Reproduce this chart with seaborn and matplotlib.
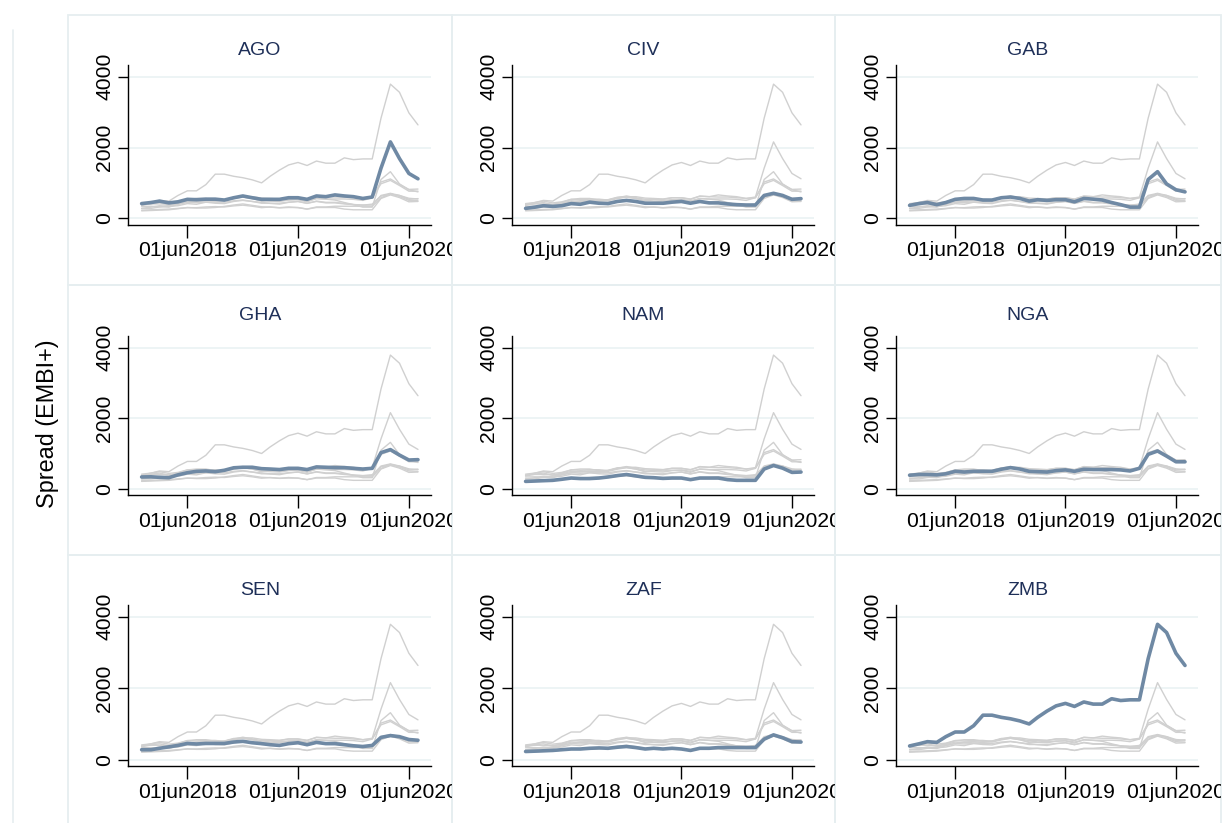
import numpy as np
import pandas as pd
import matplotlib
matplotlib.use("Agg")
import matplotlib.pyplot as plt
from matplotlib.patches import Rectangle
from matplotlib.lines import Line2D
from matplotlib.transforms import Bbox, TransformedBbox
import seaborn as sns

# Monthly EMBI+ spreads (basis points), Jan 2018 - Jul 2020
months = pd.date_range("2018-01-01", periods=31, freq="MS")

countries = ["AGO", "CIV", "GAB", "GHA", "NAM", "NGA", "SEN", "ZAF", "ZMB"]

ago = [420, 450, 490, 440, 470, 540, 530, 545, 545, 520, 585, 635, 585, 540, 540, 540,
       585, 585, 540, 635, 615, 665, 635, 615, 565, 605, 1420, 2160, 1690, 1270, 1120]
civ = [285, 320, 360, 340, 360, 420, 400, 460, 430, 420, 480, 510, 480, 430, 430, 430,
       460, 480, 430, 480, 440, 440, 410, 390, 380, 380, 650, 710, 650, 540, 560]
gab = [370, 420, 450, 390, 450, 540, 565, 565, 520, 520, 585, 605, 565, 490, 530, 510,
       530, 530, 470, 565, 545, 520, 450, 390, 320, 320, 1100, 1320, 975, 810, 750]
gha = [340, 345, 330, 320, 400, 460, 500, 510, 490, 530, 600, 615, 615, 575, 565, 550,
       585, 585, 550, 625, 615, 605, 605, 585, 565, 585, 1030, 1115, 960, 820, 830]
nam = [215, 225, 235, 245, 275, 310, 295, 295, 310, 340, 380, 410, 370, 330, 320, 300,
       310, 310, 265, 310, 310, 310, 265, 245, 245, 245, 565, 665, 590, 470, 480]
nga = [390, 410, 410, 400, 430, 500, 480, 500, 500, 500, 560, 605, 565, 500, 490, 480,
       520, 540, 500, 560, 550, 550, 550, 540, 510, 585, 980, 1075, 930, 770, 770]
sen = [285, 285, 325, 365, 405, 460, 445, 460, 460, 460, 500, 520, 480, 455, 425, 405,
       455, 480, 425, 490, 455, 455, 425, 395, 375, 405, 630, 680, 650, 570, 550]
zaf = [235, 245, 255, 265, 285, 305, 305, 325, 335, 325, 355, 375, 345, 305, 325, 305,
       325, 305, 265, 325, 325, 345, 345, 345, 345, 345, 580, 700, 620, 510, 500]
zmb = [390, 450, 510, 490, 650, 780, 780, 955, 1250, 1250, 1190, 1150, 1090, 1005, 1190, 1365,
       1510, 1580, 1495, 1620, 1560, 1560, 1710, 1660, 1680, 1680, 2830, 3790, 3560, 2980, 2640]

series = [ago, civ, gab, gha, nam, nga, sen, zaf, zmb]

tick_dates = ["2018-06-01", "2019-06-01", "2020-06-01"]
tick_labels = ["01jun2018", "01jun2019", "01jun2020"]
y_ticks = [0, 2000, 4000]
y_title = "Spread (EMBI+)"

df = pd.DataFrame({
    "date": np.tile(months, len(countries)),
    "country": np.repeat(countries, len(months)),
    "spread": np.concatenate(series),
})

sns.set_theme(style="white")
plt.rcParams["font.family"] = ["Liberation Sans", "DejaVu Sans"]

W, H = 1225, 823
fig = plt.figure(figsize=(W / 100, H / 100), dpi=100)
fig.patch.set_facecolor("white")

HIGHLIGHT = "#6F89A4"
OTHERS = "#D0D0D0"
FRAME = "#E6EEF0"
TITLE_C = "#1E2F58"
TICK_FS = 15.2

col_edges = [68, 452, 835, 1221]
row_edges = [15, 285, 555, 826]
plot_x = [(128, 431), (512, 814), (896, 1198)]
plot_y = [(65, 224.5), (336, 495), (605, 766)]
title_base = [55, 320, 595]


def fx(px):
    return px / W


def fy(py):
    return 1 - py / H


# faint outer region line on the left
fig.add_artist(Line2D([fx(13), fx(13)], [fy(30), fy(823)], color=FRAME, lw=1.2))

xlim = (pd.Timestamp("2017-11-17"), pd.Timestamp("2020-08-13"))

for i, c in enumerate(countries):
    r, k = divmod(i, 3)
    # panel frame
    fig.add_artist(Rectangle((fx(col_edges[k]), fy(row_edges[r + 1])),
                             fx(col_edges[k + 1] - col_edges[k]),
                             (row_edges[r + 1] - row_edges[r]) / H,
                             fill=False, edgecolor=FRAME, lw=1.3, zorder=0))
    x0, x1 = plot_x[k]
    y0, y1 = plot_y[r]
    ax = fig.add_axes([fx(x0), fy(y1), fx(x1 - x0), (y1 - y0) / H])
    ax.set_facecolor("white")

    for yt in y_ticks:
        ax.axhline(yt, color="#EAF2F3", lw=1.2, zorder=0)

    sns.lineplot(data=df, x="date", y="spread", units="country", estimator=None,
                 color=OTHERS, lw=1.0, ax=ax, legend=False)
    sns.lineplot(data=df[df["country"] == c], x="date", y="spread",
                 color=HIGHLIGHT, lw=2.6, ax=ax, legend=False)

    ax.set_xlim(*xlim)
    ax.set_ylim(-170, 4330)
    ax.set_xticks([pd.Timestamp(d) for d in tick_dates])
    ax.set_xticklabels(tick_labels)
    ax.set_yticks(y_ticks)
    ax.set_yticklabels([str(v) for v in y_ticks], rotation=90, va="center")
    ax.set_xlabel("")
    ax.set_ylabel("")
    ax.tick_params(axis="both", which="both", direction="out", length=7, width=1,
                   color="black", labelsize=TICK_FS, labelcolor="black", pad=3,
                   bottom=True, left=True)
    ax.tick_params(axis="x", length=9, pad=3)
    for side in ["top", "right"]:
        ax.spines[side].set_visible(False)
    for side in ["left", "bottom"]:
        ax.spines[side].set_color("black")
        ax.spines[side].set_linewidth(1.0)

    # tick labels do not spill into the neighbouring panel
    clip = TransformedBbox(Bbox([[fx(col_edges[k]), fy(row_edges[r + 1])],
                                 [fx(col_edges[k + 1]), fy(row_edges[r])]]),
                           fig.transFigure)
    for lab in ax.get_xticklabels():
        lab.set_clip_box(clip)
        lab.set_clip_on(True)

    fig.text(fx((col_edges[k] + col_edges[k + 1]) / 2), fy(title_base[r]), c,
             ha="center", va="baseline", fontsize=14, color=TITLE_C)

fig.text(fx(48), fy(424), y_title, rotation=90, ha="center", va="center",
         fontsize=16.8, color="black")

fig.savefig("out.png", dpi=100, facecolor="white")
